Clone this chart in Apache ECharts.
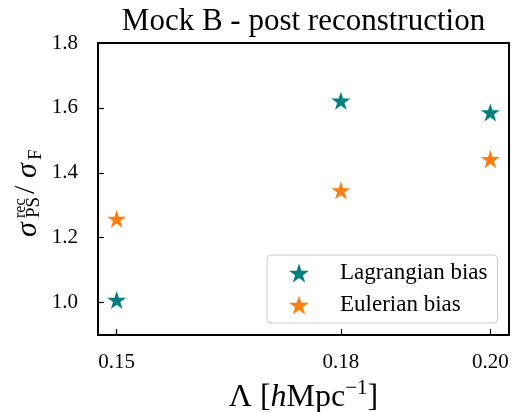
<!DOCTYPE html>
<html>
<head>
<meta charset="utf-8">
<script src="https://cdn.jsdelivr.net/npm/echarts@6/dist/echarts.min.js"></script>
<style>
  html, body { margin: 0; padding: 0; background: #fff; }
  #chart { width: 512px; height: 412px; }
</style>
</head>
<body>
<div id="chart"></div>
<script>
// Smoothing scale Lambda [h/Mpc] and the post-reconstruction error ratio
const lambdaValues = [0.15, 0.18, 0.20];
const lagrangianRatio = [1.008, 1.622, 1.586];
const eulerianRatio = [1.258, 1.346, 1.442];
const xTickValues = [0.15, 0.18, 0.20];
const xTickLabels = ['0.15', '0.18', '0.20'];
const yTickValues = [1.0, 1.2, 1.4, 1.6, 1.8];
const yTickLabels = ['1.0', '1.2', '1.4', '1.6', '1.8'];

const SERIF = '"Liberation Serif", "DejaVu Serif", serif';
const STAR = 'path://M100,0 L122.45,69.1 L195.11,69.1 L136.33,111.8 L158.78,180.9 L100,138.2 L41.22,180.9 L63.67,111.8 L4.89,69.1 L77.55,69.1 Z';

const grid = { left: 98, right: 3, top: 43, bottom: 77 };
const plotCenterX = grid.left + (512 - grid.left - grid.right) / 2;

function pairs(xs, ys) { return xs.map((x, i) => [x, ys[i]]); }

const chart = echarts.init(document.getElementById('chart'), null, { renderer: 'canvas' });
chart.setOption({
  animation: false,
  backgroundColor: '#fff',
  grid: Object.assign({ show: true, borderColor: '#000', borderWidth: 2, backgroundColor: 'transparent' }, grid),
  xAxis: {
    type: 'value', min: 0.1475, max: 0.2025,
    axisLine: { show: false },
    splitLine: { show: false },
    axisTick: { inside: true, length: 6, lineStyle: { color: '#000', width: 1.2 }, customValues: xTickValues },
    axisLabel: {
      customValues: xTickValues, margin: 17, color: '#000', fontSize: 21, fontFamily: SERIF,
      formatter: v => xTickLabels[xTickValues.findIndex(t => Math.abs(t - v) < 1e-9)]
    }
  },
  yAxis: {
    type: 'value', min: 0.9, max: 1.8,
    axisLine: { show: false },
    splitLine: { show: false },
    axisTick: { inside: true, length: 6, lineStyle: { color: '#000', width: 1.2 }, customValues: yTickValues },
    axisLabel: {
      customValues: yTickValues, margin: 20, color: '#000', fontSize: 21, fontFamily: SERIF,
      formatter: v => yTickLabels[yTickValues.findIndex(t => Math.abs(t - v) < 1e-9)]
    }
  },
  legend: {
    left: 267, top: 255, orient: 'vertical',
    padding: [6, 10, 6, 22], itemGap: 8,
    itemWidth: 20, itemHeight: 20,
    backgroundColor: 'rgba(255,255,255,0.8)', borderColor: '#cccccc', borderWidth: 1, borderRadius: 4,
    textStyle: { color: '#000', fontSize: 23, fontFamily: SERIF, lineHeight: 24, padding: [0, 0, 0, 26] },
    data: ['Lagrangian bias', 'Eulerian bias']
  },
  series: [
    {
      name: 'Lagrangian bias', type: 'scatter', symbol: STAR, symbolKeepAspect: true, symbolSize: 19,
      itemStyle: { color: '#008080', opacity: 1 }, data: pairs(lambdaValues, lagrangianRatio)
    },
    {
      name: 'Eulerian bias', type: 'scatter', symbol: STAR, symbolKeepAspect: true, symbolSize: 19,
      itemStyle: { color: '#ff7f0e', opacity: 1 }, data: pairs(lambdaValues, eulerianRatio)
    }
  ],
  graphic: [
    {
      type: 'text', x: plotCenterX, y: 22,
      style: { text: 'Mock B - post reconstruction', fill: '#000', font: '31px ' + SERIF, align: 'center', verticalAlign: 'middle' }
    },
    {
      type: 'text', x: plotCenterX, y: 396,
      style: {
        text: '{n|Λ [}{i|h}{n|Mpc}{s|−1}{n|]}', align: 'center', verticalAlign: 'middle', fill: '#000',
        rich: {
          n: { fontSize: 32, fontFamily: SERIF, lineHeight: 36, verticalAlign: 'bottom' },
          i: { fontSize: 32, fontFamily: SERIF, fontStyle: 'italic', lineHeight: 36, verticalAlign: 'bottom' },
          s: { fontSize: 21, fontFamily: SERIF, lineHeight: 23, verticalAlign: 'top' }
        }
      }
    },
    {
      // vertical axis title: sigma^rec_PS / sigma_F, reading bottom to top
      type: 'group', x: 28, y: 237, rotation: Math.PI / 2,
      children: [
        { type: 'text', x: 0, y: 0, style: { text: 'σ', font: 'italic 30px ' + SERIF, fill: '#000', align: 'left', verticalAlign: 'middle' } },
        { type: 'text', x: 19, y: -7, style: { text: 'rec', font: '16px ' + SERIF, fill: '#000', align: 'left', verticalAlign: 'middle' } },
        { type: 'text', x: 19, y: 6, style: { text: 'PS', font: '19px ' + SERIF, fill: '#000', align: 'left', verticalAlign: 'middle' } },
        { type: 'text', x: 43, y: -2, style: { text: '/', font: '30px ' + SERIF, fill: '#000', align: 'left', verticalAlign: 'middle' } },
        { type: 'text', x: 59, y: 0, style: { text: 'σ', font: 'italic 30px ' + SERIF, fill: '#000', align: 'left', verticalAlign: 'middle' } },
        { type: 'text', x: 77, y: 8, style: { text: 'F', font: '19px ' + SERIF, fill: '#000', align: 'left', verticalAlign: 'middle' } }
      ]
    }
  ]
});
</script>
</body>
</html>
